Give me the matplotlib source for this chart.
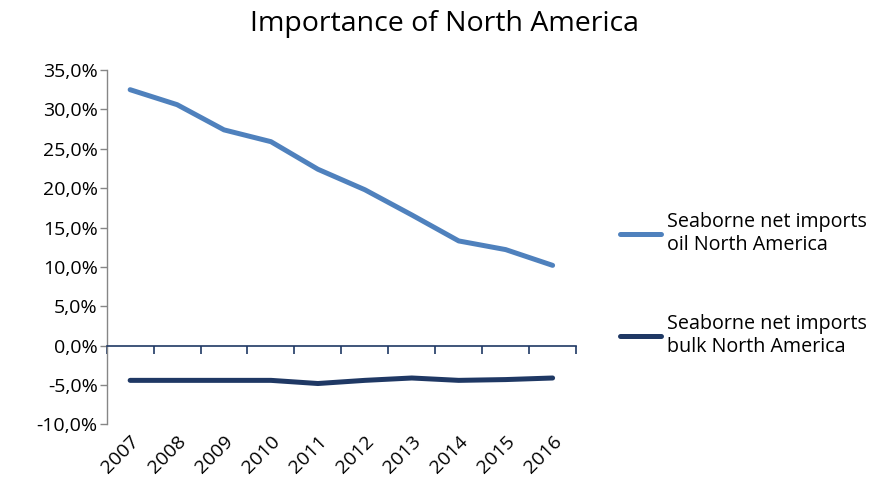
import matplotlib.pyplot as plt
import matplotlib.ticker as mticker
import numpy as np

plt.rcParams['font.family'] = ['Open Sans', 'DejaVu Sans']

years = ['2007', '2008', '2009', '2010', '2011', '2012', '2013', '2014', '2015', '2016']
oil_share = [32.5, 30.6, 27.4, 25.9, 22.4, 19.8, 16.6, 13.3, 12.2, 10.2]
bulk_share = [-4.4, -4.4, -4.4, -4.4, -4.8, -4.4, -4.1, -4.4, -4.3, -4.1]
series_labels = ['Seaborne net imports\noil North America',
                 'Seaborne net imports\nbulk North America']

oil_color = '#4F81BD'
bulk_color = '#1F3864'
grid_gray = '#868686'

fig = plt.figure(figsize=(8.89, 4.93), dpi=100)
ax = fig.add_axes([0.12, 0.139, 0.528, 0.719])

x = np.arange(len(years))
ax.plot(x, oil_share, color=oil_color, lw=3.6, solid_capstyle='round', label=series_labels[0])
ax.plot(x, bulk_share, color=bulk_color, lw=3.6, solid_capstyle='round', label=series_labels[1])

ax.set_xlim(-0.5, len(years) - 0.5)
ax.set_ylim(-10, 35)
ax.yaxis.set_major_locator(mticker.MultipleLocator(5))
ax.yaxis.set_major_formatter(mticker.FuncFormatter(lambda v, _: f'{v:.1f}%'.replace('.', ',')))
ax.tick_params(axis='y', length=5, width=1, color=grid_gray, labelsize=14, pad=1.5)

for side in ['top', 'right']:
    ax.spines[side].set_visible(False)
ax.spines['left'].set_color(grid_gray)
ax.spines['left'].set_linewidth(1)

# category axis line sits at zero, with boundary ticks
ax.spines['bottom'].set_position(('data', 0))
ax.spines['bottom'].set_color(bulk_color)
ax.spines['bottom'].set_linewidth(1.2)
ax.set_xticks(np.arange(-0.5, len(years), 1))
ax.tick_params(axis='x', length=6, width=1.2, color=bulk_color, labelbottom=False)

# year labels stay at the bottom of the plot area
sec = ax.secondary_xaxis(0)
sec.set_xticks(x)
sec.set_xticklabels(years, rotation=45, ha='right', rotation_mode='anchor', fontsize=14)
sec.tick_params(length=0, pad=6)
sec.spines['bottom'].set_visible(False)

fig.suptitle('Importance of North America', fontsize=20.5, y=0.98)

fig.legend(loc='upper left', bbox_to_anchor=(0.686, 0.59), frameon=False, borderpad=0,
           fontsize=14.2, handlelength=2.1, handletextpad=0.3, labelspacing=3.0)

fig.savefig('out.png', dpi=100)
